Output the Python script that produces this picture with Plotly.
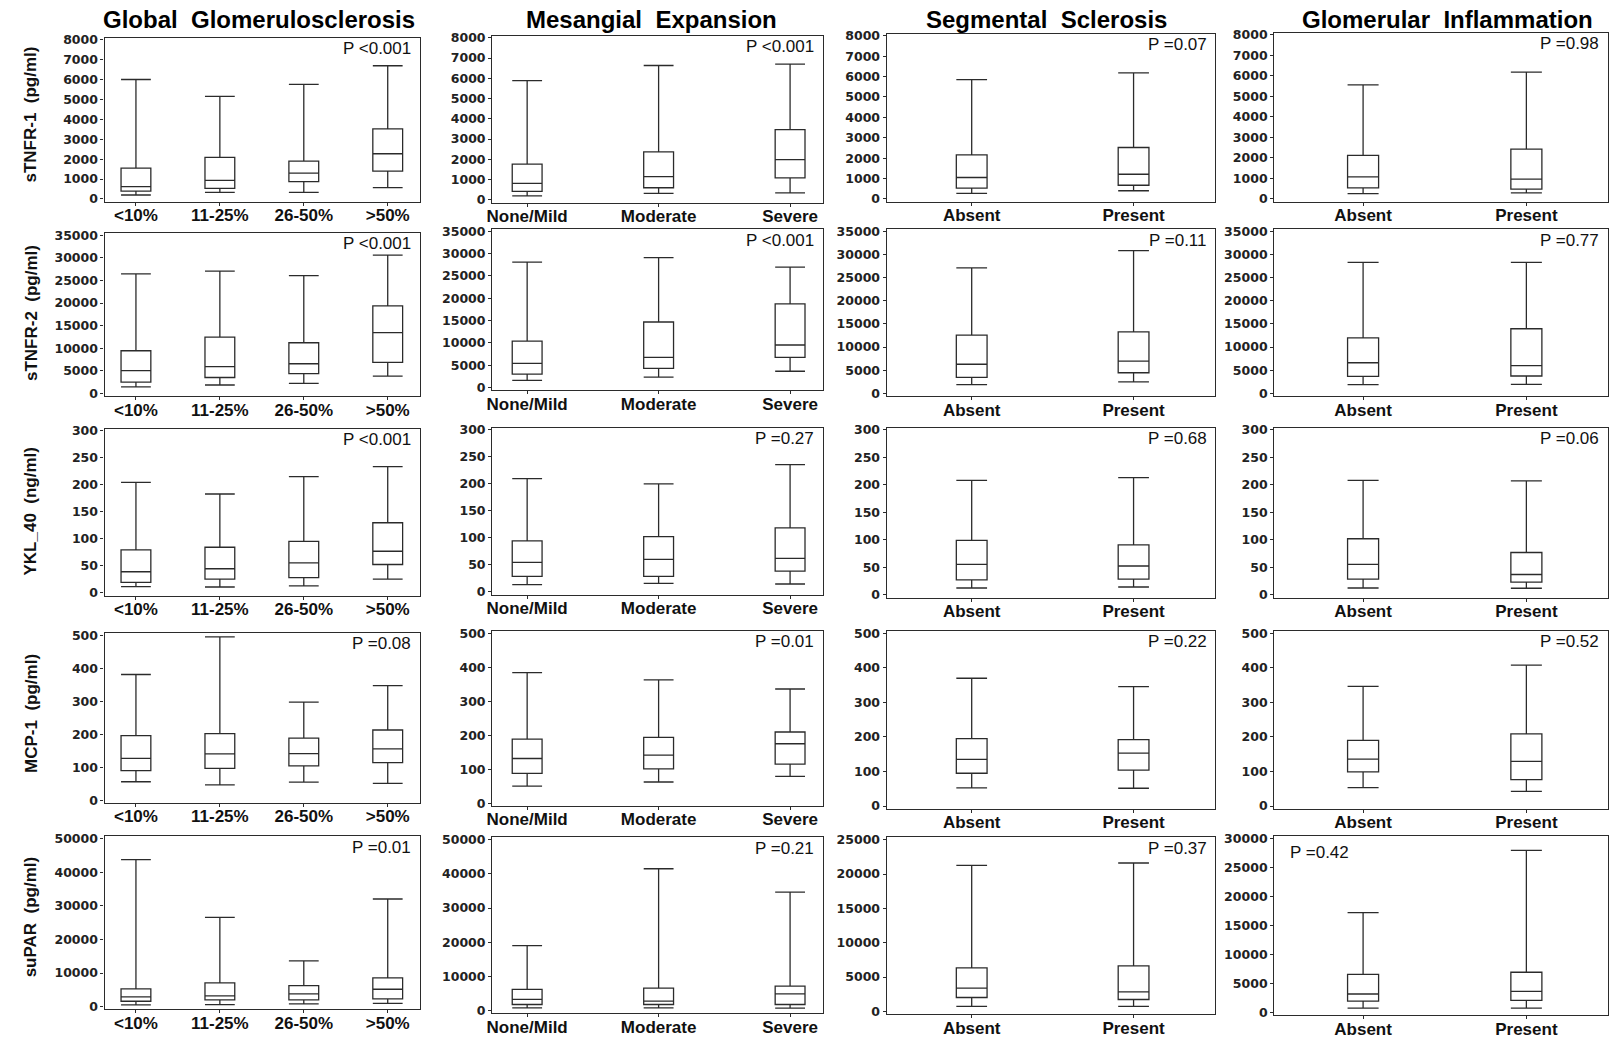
import plotly.graph_objects as go

# ---------------- data ----------------
col_titles = ["Global  Glomerulosclerosis", "Mesangial  Expansion", "Segmental  Sclerosis", "Glomerular  Inflammation"]
row_titles = ["sTNFR-1  (pg/ml)", "sTNFR-2  (pg/ml)", "YKL_40  (ng/ml)", "MCP-1  (pg/ml)", "suPAR  (pg/ml)"]

cats_global = ["<10%", "11-25%", "26-50%", ">50%"]
cats_mesangial = ["None/Mild", "Moderate", "Severe"]
cats_segmental = ["Absent", "Present"]
cats_inflam = ["Absent", "Present"]

# each box: (lower whisker, Q1, median, Q3, upper whisker)
stnfr1_global = [(200, 390, 620, 1550, 6000), (330, 530, 930, 2090, 5150), (330, 870, 1300, 1900, 5760), (570, 1400, 2270, 3520, 6690)]
stnfr1_mesangial = [(200, 420, 820, 1770, 5880), (320, 600, 1150, 2370, 6630), (350, 1090, 1990, 3470, 6700)]
stnfr1_segmental = [(270, 530, 1050, 2160, 5850), (400, 670, 1210, 2520, 6180)]
stnfr1_inflam = [(260, 540, 1070, 2120, 5560), (290, 480, 960, 2430, 6180)]

stnfr2_global = [(1450, 2530, 5040, 9450, 26460), (1880, 3540, 5930, 12450, 27060), (2240, 4410, 6580, 11220, 26050), (3840, 6870, 13460, 19390, 30610)]
stnfr2_mesangial = [(1620, 3010, 5430, 10400, 28100), (2350, 4330, 6750, 14680, 29080), (3670, 6750, 9540, 18720, 26950)]
stnfr2_segmental = [(1890, 3490, 6300, 12590, 27110), (2510, 4470, 6990, 13270, 30810)]
stnfr2_inflam = [(1890, 3700, 6630, 12010, 28280), (1960, 3770, 6010, 13970, 28280)]

ykl40_global = [(11.6, 19.6, 39.2, 79.6, 204.5), (11, 25.7, 44.7, 84.5, 183), (12.9, 28.2, 55.7, 95.5, 215), (25.7, 52.6, 77.1, 129.8, 233.8)]
ykl40_mesangial = [(13.5, 28.8, 54.6, 94.5, 209.8), (16, 28.8, 60.1, 102.5, 200), (14.7, 38.7, 62, 118.4, 235.6)]
ykl40_segmental = [(12.5, 27.4, 55.5, 99, 208), (14.3, 28.6, 52.5, 90.7, 213)]
ykl40_inflam = [(12.5, 28.6, 55.5, 102, 208), (12, 23.3, 37, 77, 207)]

mcp1_global = [(56, 89.6, 127, 195.5, 380.9), (46.8, 96.7, 140.5, 201.6, 495), (55, 103.9, 141.5, 188.4, 297.4), (50.9, 114, 155.8, 212.8, 347.3)]
mcp1_mesangial = [(50.4, 87.9, 131.4, 188.7, 384.4), (62.3, 100.8, 141.3, 193.7, 362.6), (79, 114.6, 174.9, 209.5, 336)]
mcp1_segmental = [(52.4, 95, 135, 195, 370), (51.5, 103.9, 153.4, 192.2, 345.6)]
mcp1_inflam = [(53.4, 99, 135.9, 190.3, 346.6), (42.7, 76.7, 129.1, 208.7, 407.8)]

supar_global = [(500, 1590, 2880, 5260, 43750), (600, 1980, 3170, 7040, 26590), (790, 1980, 3770, 6250, 13590), (990, 2280, 5160, 8530, 32040)]
supar_mesangial = [(780, 1760, 3230, 6160, 18980), (780, 1760, 2740, 6560, 41490), (680, 1760, 4890, 7140, 34640)]
supar_segmental = [(730, 2030, 3390, 6350, 21270), (730, 1740, 2860, 6640, 21610)]
supar_inflam = [(750, 1970, 3180, 6590, 17230), (750, 2080, 3640, 6940, 27980)]

p_values = [
    ["P <0.001", "P <0.001", "P =0.07", "P =0.98"],
    ["P <0.001", "P <0.001", "P =0.11", "P =0.77"],
    ["P <0.001", "P =0.27", "P =0.68", "P =0.06"],
    ["P =0.08", "P =0.01", "P =0.22", "P =0.52"],
    ["P =0.01", "P =0.21", "P =0.37", "P =0.42"],
]

# y-axis tick maxima and steps (tick labels)
y_max = [
    [8000, 8000, 8000, 8000],
    [35000, 35000, 35000, 35000],
    [300, 300, 300, 300],
    [500, 500, 500, 500],
    [50000, 50000, 25000, 30000],
]
y_step = [
    [1000, 1000, 1000, 1000],
    [5000, 5000, 5000, 5000],
    [50, 50, 50, 50],
    [100, 100, 100, 100],
    [10000, 10000, 5000, 5000],
]

panels = [
    [stnfr1_global, stnfr1_mesangial, stnfr1_segmental, stnfr1_inflam],
    [stnfr2_global, stnfr2_mesangial, stnfr2_segmental, stnfr2_inflam],
    [ykl40_global, ykl40_mesangial, ykl40_segmental, ykl40_inflam],
    [mcp1_global, mcp1_mesangial, mcp1_segmental, mcp1_inflam],
    [supar_global, supar_mesangial, supar_segmental, supar_inflam],
]
col_cats = [cats_global, cats_mesangial, cats_segmental, cats_inflam]

# ---------------- layout geometry (screen pixels) ----------------
W, H = 1612, 1039
col_x = [(99, 416), (488, 820), (884, 1214), (1273, 1608)]
row_y = [
    [(32, 198), (30, 199), (28, 198), (27, 198)],
    [(230, 395), (226, 389), (226, 395), (226, 395)],
    [(428, 597), (427, 596), (427, 599), (427, 599)],
    [(635, 807), (633, 810), (633, 813), (633, 813)],
    [(841, 1016), (842, 1020), (842, 1021), (841, 1022)],
]
cat_range = [(-0.373, 3.39), (-0.266, 2.25), (-0.525, 1.506), (-0.544, 1.5)]
box_w = [0.355, 0.227, 0.19, 0.19]
col_title_x = [254, 648, 1044, 1447]
col_title_y = 14
row_title_x = 25
row_title_y = [110, 311, 512, 716, 922]


def px(x):
    return min(max(x / W, 0.0), 1.0)


def py(y):
    return min(max(1 - y / H, 0.0), 1.0)


TXT = "Liberation Sans, Arial, sans-serif"
TICK = "DejaVu Sans, Verdana, sans-serif"
LINE = "#2b2b2b"

fig = go.Figure()
annotations = []

for r in range(5):
    for c in range(4):
        idx = r * 4 + c + 1
        xa = "x" if idx == 1 else f"x{idx}"
        ya = "y" if idx == 1 else f"y{idx}"
        data = panels[r][c]
        cats = col_cats[c]
        fig.add_trace(go.Box(
            x=cats,
            lowerfence=[d[0] for d in data],
            q1=[d[1] for d in data],
            median=[d[2] for d in data],
            q3=[d[3] for d in data],
            upperfence=[d[4] for d in data],
            width=box_w[c], whiskerwidth=1,
            line=dict(color=LINE, width=1.3),
            fillcolor="rgba(255,255,255,0)",
            boxpoints=False, hoverinfo="skip", showlegend=False,
            xaxis=xa, yaxis=ya,
        ))
        x0, x1 = col_x[c]
        t, b = row_y[r][c]
        ym = y_max[r][c]
        common = dict(showline=True, mirror=True, linecolor=LINE, linewidth=1.3,
                      showgrid=False, zeroline=False, ticks="outside", ticklen=3,
                      tickcolor=LINE, tickwidth=1)
        fig.update_layout(**{
            ("xaxis" if idx == 1 else f"xaxis{idx}"): dict(
                domain=[px(x0), px(x1)], anchor=ya, type="category",
                categoryorder="array", categoryarray=cats,
                range=list(cat_range[c]),
                ticklabelstandoff=-5,
                tickfont=dict(family=TXT, size=17, color="#111", weight="bold"),
                **common),
            ("yaxis" if idx == 1 else f"yaxis{idx}"): dict(
                domain=[py(b), py(t)], anchor=xa,
                range=[-0.016 * ym, 1.013 * ym],
                tickmode="linear", tick0=0, dtick=y_step[r][c], tickformat="d",
                tickfont=dict(family=TICK, size=12.5, color="#222", weight="bold"),
                **common),
        })
        # P value annotation
        if r == 4 and c == 3:
            annotations.append(dict(x=px(x0 + 14), y=py(t + 16), xref="paper", yref="paper",
                                    text=p_values[r][c], showarrow=False, xanchor="left", yanchor="middle",
                                    font=dict(family=TXT, size=17, color="#111")))
        else:
            annotations.append(dict(x=px(x1 - 7), y=py(t + 11), xref="paper", yref="paper",
                                    text=p_values[r][c], showarrow=False, xanchor="right", yanchor="middle",
                                    font=dict(family=TXT, size=17, color="#111")))

for c in range(4):
    annotations.append(dict(x=px(col_title_x[c]), y=py(col_title_y), xref="paper", yref="paper",
                            text=col_titles[c], showarrow=False, xanchor="center", yanchor="middle",
                            font=dict(family=TXT, size=24, color="#000", weight="bold")))
for r in range(5):
    annotations.append(dict(x=px(row_title_x), y=py(row_title_y[r]), xref="paper", yref="paper",
                            text=row_titles[r], showarrow=False, xanchor="center", yanchor="middle",
                            textangle=-90,
                            font=dict(family=TXT, size=17, color="#111", weight="bold")))

fig.update_layout(width=W, height=H, margin=dict(l=0, r=0, t=0, b=0),
                  paper_bgcolor="white", plot_bgcolor="white",
                  annotations=annotations, showlegend=False)

# pin the figure to the window's top-left corner (no page margin / scrollbars)
pin_js = (
    "document.documentElement.style.overflow='hidden';"
    "document.body.style.margin='0';document.body.style.overflow='hidden';"
    "var gd=document.getElementById('{plot_id}');"
    "gd.style.position='fixed';gd.style.top='0px';gd.style.left='0px';"
)
fig.write_html("out.html", post_script=pin_js, config={"displayModeBar": False})
